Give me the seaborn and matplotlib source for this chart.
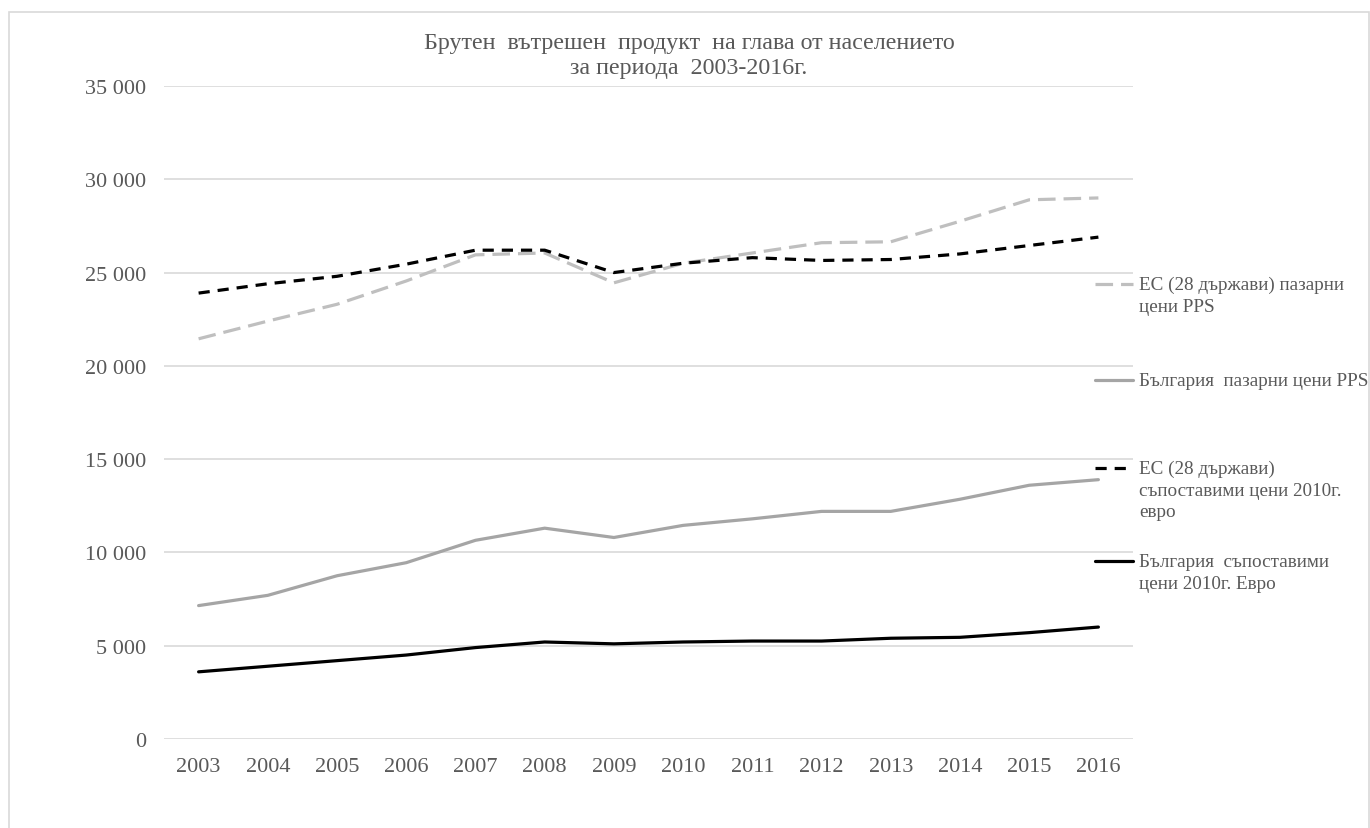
import numpy as np
import pandas as pd
import seaborn as sns
import matplotlib.pyplot as plt
from matplotlib.lines import Line2D
from matplotlib.patches import Rectangle
from matplotlib.ticker import FuncFormatter

# values
years = list(range(2003, 2017))
eu_pps = [21450, 22400, 23300, 24550, 25950, 26050, 24450, 25500, 26050, 26600, 26650, 27750, 28900, 29000]
bg_pps = [7150, 7700, 8750, 9450, 10650, 11300, 10800, 11450, 11800, 12200, 12200, 12850, 13600, 13900]
eu_2010 = [23900, 24400, 24800, 25450, 26200, 26200, 25000, 25500, 25800, 25650, 25700, 26000, 26450, 26900]
bg_2010 = [3600, 3900, 4200, 4500, 4900, 5200, 5100, 5200, 5250, 5250, 5400, 5450, 5700, 6000]

labels = ["ЕС (28 държави) пазарни\nцени PPS",
          "България  пазарни цени PPS",
          "ЕС (28 държави)\nсъпоставими цени 2010г.\nевро",
          "България  съпоставими\nцени 2010г. Евро"]
series = [eu_pps, bg_pps, eu_2010, bg_2010]
colors = ["#bfbfbf", "#a5a5a5", "#000000", "#000000"]
dashes = [(5.5, 2.5), "", (3.5, 2.5), ""]

title = "Брутен  вътрешен  продукт  на глава от населението\nза периода  2003-2016г."

# long format table for seaborn
df = pd.DataFrame({
    "year": years * len(series),
    "value": np.concatenate(series),
    "series": np.repeat(labels, len(years)),
})

sns.set_style("white")
plt.rcParams['font.family'] = ['Liberation Serif', 'DejaVu Serif']
text_col = "#595959"

fig = plt.figure(figsize=(13.7, 8.29), dpi=100)
ax = fig.add_axes([164/1370, 1-740/829, (1133-164)/1370, (740-87)/829])

sns.lineplot(data=df, x="year", y="value", hue="series", style="series",
             hue_order=labels, style_order=labels,
             palette=dict(zip(labels, colors)), dashes=dict(zip(labels, dashes)),
             linewidth=2.3, legend=False, ax=ax)

ax.set_xlim(2002.5, 2016.5)
ax.set_ylim(0, 35000)
ax.set_xticks(years)
ax.set_yticks(np.arange(0, 35001, 5000))
ax.yaxis.set_major_formatter(FuncFormatter(lambda v, p: f"{int(v):,}".replace(",", " ")))
ax.grid(axis="y", color="#d9d9d9", linewidth=1.2)
ax.set_axisbelow(True)
for s in ax.spines.values():
    s.set_visible(False)
ax.tick_params(axis="both", length=0, labelsize=16, labelcolor=text_col)
ax.tick_params(axis="x", pad=13)
ax.tick_params(axis="y", pad=13)
ax.set_xlabel("")
ax.set_ylabel("")

# chart title, centred on the whole chart area
fig.text(689/1370, 1-56/829, title, fontsize=17.3, color=text_col,
         ha="center", va="center", multialignment="center", linespacing=1.2)

# legend on the right, handle lined up with the first text line
entry_y = [285, 381, 469, 562]
for lab, col, d, yy in zip(labels, colors, dashes, entry_y):
    ln = Line2D([1095/1370, 1133/1370], [1-yy/829, 1-yy/829], transform=fig.transFigure,
                color=col, linewidth=2.3)
    if d:
        ln.set_dashes(d)
    fig.add_artist(ln)
    fig.text(1139/1370, 1-(yy-8)/829, lab, fontsize=13.8, color=text_col,
             va="top", ha="left", linespacing=1.35)

# chart frame
fig.add_artist(Rectangle((9/1370, -0.01), 1360/1370, 1.01-13/829, transform=fig.transFigure,
                         fill=False, edgecolor="#d9d9d9", linewidth=1.2))

fig.savefig("out.png", dpi=100)
